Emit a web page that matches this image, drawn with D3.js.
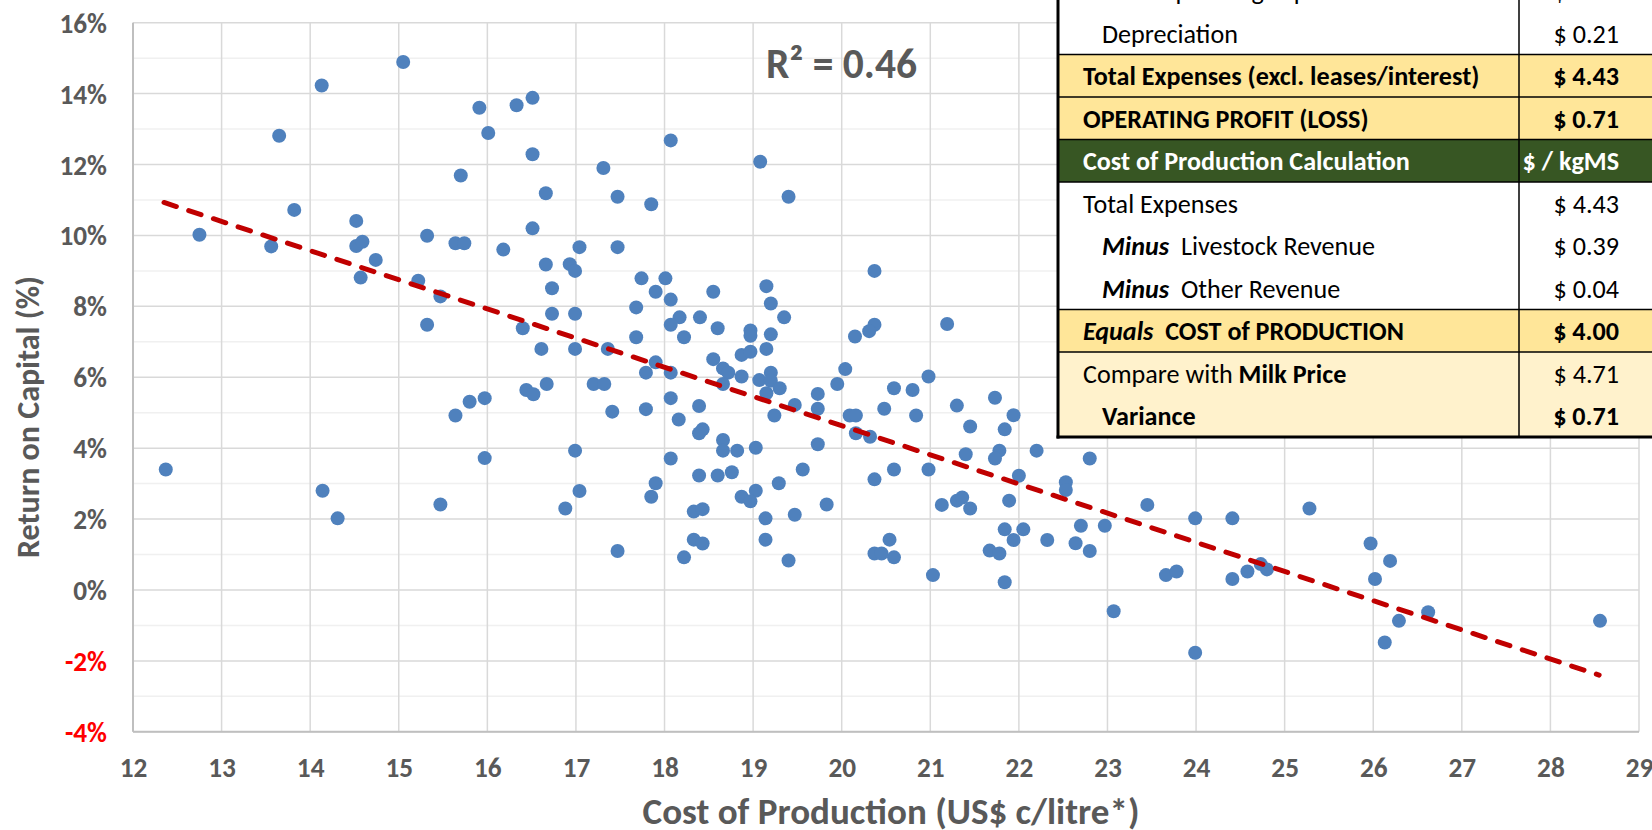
<!DOCTYPE html>
<html><head><meta charset="utf-8">
<script src="https://cdn.jsdelivr.net/npm/d3@7"></script>
<style>html,body{margin:0;padding:0;background:#fff;overflow:hidden}</style>
</head><body>
<svg id="chart" width="1652" height="830"></svg>
<script>
// ---------- DATA ----------
const cost = [
12.37,12.75,13.56,13.65,13.82,14.13,14.14,14.31,14.52,14.52,14.59,14.74,14.57,15.05,
15.91,16.33,16.51,16.01,16.51,15.70,18.07,17.31,19.08,17.47,17.85,19.40,16.66,16.51,15.32,15.64,15.74,16.18,17.04,17.47,16.66,16.93,16.99,15.22,15.47,16.73,16.73,16.99,15.32,16.40,17.74,18.01,17.90,18.07,17.68,18.55,18.17,18.07,18.40,18.60,18.22,17.68,19.15,19.20,19.35,18.97,18.97,19.20,20.37,20.37,20.31,20.15,
16.61,16.99,17.36,17.90,17.79,18.07,18.55,18.66,18.72,18.66,18.87,18.97,19.15,18.87,19.07,19.20,19.20,19.30,19.15,19.24,19.47,19.73,19.73,19.73,20.04,19.95,20.09,20.16,20.16,20.32,20.48,20.59,20.80,20.84,20.37,20.59,20.54,20.37,20.45,20.59,19.83,19.56,19.47,19.40,19.29,19.14,19.14,19.03,19.03,18.87,18.97,18.82,18.66,18.66,18.76,18.60,18.39,18.43,18.39,18.39,18.33,18.43,18.33,18.43,18.22,18.16,18.07,18.07,17.79,17.90,17.85,17.47,17.41,17.20,17.32,16.99,17.04,16.88,16.67,16.44,16.52,15.97,15.80,15.64,15.97,15.47,
21.19,20.98,21.30,21.73,21.45,21.94,21.84,21.40,21.78,21.73,22.20,22.00,22.80,22.53,22.53,20.98,21.13,21.30,21.36,21.45,21.89,21.84,22.05,21.94,21.67,21.78,21.84,21.03,22.32,22.70,22.64,22.80,22.97,23.07,23.45,23.99,24.41,23.66,23.78,24.41,24.58,24.73,24.80,23.99,25.28,
25.97,26.19,26.02,26.29,26.62,26.13,28.56
];
const roc = [
3.40,10.02,9.69,12.81,10.72,14.23,2.80,2.02,10.41,9.70,9.82,9.31,8.81,14.89,
13.60,13.67,13.88,12.89,12.29,11.69,12.68,11.90,12.08,11.09,10.88,11.09,11.19,10.20,9.99,9.78,9.78,9.60,9.67,9.67,9.18,9.19,9.00,8.72,8.28,8.51,7.79,7.79,7.48,7.38,8.79,8.79,8.41,8.19,7.97,8.41,7.69,7.48,7.69,7.38,7.13,7.13,8.57,8.08,7.69,7.32,7.17,7.21,9.00,7.48,7.30,7.15,
6.80,6.80,6.80,6.42,6.13,6.13,6.51,6.25,6.13,5.81,6.63,6.72,6.80,6.02,5.92,6.13,5.90,5.69,5.55,4.92,5.22,5.53,5.11,4.11,6.23,5.81,4.92,4.92,4.42,4.32,5.11,5.69,5.64,4.92,3.12,3.40,1.42,1.03,1.03,0.92,2.41,3.40,2.12,0.83,3.01,2.02,1.42,4.01,2.80,2.63,2.50,3.93,4.23,3.93,3.32,3.23,5.19,4.53,4.42,3.23,2.21,2.28,1.42,1.31,0.92,4.81,5.41,3.71,5.10,3.01,2.63,1.10,5.03,5.81,5.81,3.93,2.79,2.30,5.81,5.64,5.52,5.41,5.31,4.92,3.72,2.41,
7.50,6.02,5.20,5.42,4.61,4.93,4.53,3.83,3.93,3.71,3.93,3.22,3.71,3.04,2.82,3.40,2.40,2.52,2.61,2.30,2.52,1.71,1.71,1.41,1.11,1.03,0.22,0.42,1.41,1.81,1.32,1.10,1.81,-0.60,2.40,2.02,2.02,0.42,0.52,0.31,0.52,0.73,0.58,-1.77,2.30,
1.31,0.82,0.31,-0.87,-0.63,-1.48,-0.87
];
const xTicks = [12,13,14,15,16,17,18,19,20,21,22,23,24,25,26,27,28,29];
const yTicks = [-4,-2,0,2,4,6,8,10,12,14,16];
const yMinor = [-3,-1,1,3,5,7,9,11,13,15];
const trendX = [12.35, 28.55];
const trendY = [10.93, -2.40];
const rSquaredLabel = "R² = 0.46";
const xTitle = "Cost of Production (US$ c/litre*)";
const yTitle = "Return on Capital (%)";

const tableLabels = [
  [["Cash Operating Expenses","normal","normal"]],
  [["Depreciation","normal","normal"]],
  [["Total Expenses (excl. leases/interest)","bold","normal"]],
  [["OPERATING PROFIT (LOSS)","bold","normal"]],
  [["Cost of Production Calculation","bold","normal"]],
  [["Total Expenses","normal","normal"]],
  [["Minus","bold","italic"],["  Livestock Revenue","normal","normal"]],
  [["Minus","bold","italic"],["  Other Revenue","normal","normal"]],
  [["Equals","bold","italic"],["  COST of PRODUCTION","bold","normal"]],
  [["Compare with ","normal","normal"],["Milk Price","bold","normal"]],
  [["Variance","bold","normal"]]
];
const tableValues = ["$ 4.22","$ 0.21","$ 4.43","$ 0.71","$ / kgMS","$ 4.43","$ 0.39","$ 0.04","$ 4.00","$ 4.71","$ 0.71"];
const tableValueBold = [false,false,true,true,true,false,false,false,true,false,true];

// ---------- LAYOUT / STYLE ----------
const W = 1652, H = 830;
const plot = {left:133, right:1639, top:22.7, bottom:731.8};
const FONT = "Carlito, Calibri, Lato, sans-serif";
const GRAY = "#595959";
const svg = d3.select("#chart");
svg.append("rect").attr("width",W).attr("height",H).attr("fill","#fff");

const x = d3.scaleLinear().domain([12,29]).range([plot.left, plot.right]);
const y = d3.scaleLinear().domain([-4,16]).range([plot.bottom, plot.top]);

function fitFont(sel, target){
  const w = sel.node().getComputedTextLength();
  const fs = parseFloat(sel.attr("font-size"));
  const nf = fs*target/w;
  sel.attr("font-size", nf);
  return nf;
}

// gridlines
const grid = svg.append("g");
grid.selectAll(".ymin").data(yMinor).join("line")
  .attr("x1",plot.left).attr("x2",plot.right)
  .attr("y1",d=>y(d)).attr("y2",d=>y(d))
  .attr("stroke","#F0F0F0").attr("stroke-width",1.5);
grid.selectAll(".ymaj").data(yTicks).join("line")
  .attr("x1",plot.left).attr("x2",plot.right)
  .attr("y1",d=>y(d)).attr("y2",d=>y(d))
  .attr("stroke","#D9D9D9").attr("stroke-width",1.5);
grid.selectAll(".xg").data(xTicks).join("line")
  .attr("x1",d=>x(d)).attr("x2",d=>x(d))
  .attr("y1",plot.top).attr("y2",plot.bottom)
  .attr("stroke","#D9D9D9").attr("stroke-width",1.5);
// axis lines
svg.append("line").attr("x1",plot.left).attr("x2",plot.left).attr("y1",plot.top).attr("y2",plot.bottom)
  .attr("stroke","#BFBFBF").attr("stroke-width",2);
svg.append("line").attr("x1",plot.left).attr("x2",plot.right).attr("y1",plot.bottom).attr("y2",plot.bottom)
  .attr("stroke","#BFBFBF").attr("stroke-width",2);

// probe tick font size
const probe = svg.append("text").attr("font-family",FONT).attr("font-weight","bold").attr("font-size",24).text("16%");
const tickFS = fitFont(probe, 47.5);
probe.remove();

// y axis
const yAxis = svg.append("g").attr("transform",`translate(${plot.left},0)`)
  .call(d3.axisLeft(y).tickValues(yTicks).tickFormat(d=>d+"%").tickSize(0).tickPadding(26));
yAxis.select(".domain").remove();
yAxis.selectAll("text").attr("font-family",FONT).attr("font-weight","bold").attr("font-size",tickFS)
  .attr("fill",d=>d<0?"#FF0000":GRAY).attr("dy","0.35em");

// x axis
const xAxis = svg.append("g").attr("transform",`translate(0,${plot.bottom})`)
  .call(d3.axisBottom(x).tickValues(xTicks).tickFormat(d=>d).tickSize(0));
xAxis.select(".domain").remove();
xAxis.selectAll("text").attr("font-family",FONT).attr("font-weight","bold").attr("font-size",tickFS)
  .attr("fill",GRAY).attr("y",767-plot.bottom).attr("dy","0.35em");

// points
svg.append("g").selectAll("circle").data(cost.map((c,i)=>[c,roc[i]])).join("circle")
  .attr("cx",d=>x(d[0])).attr("cy",d=>y(d[1])).attr("r",7).attr("fill","#4F81BD");

// trendline
svg.append("path").datum(trendX.map((t,i)=>[t,trendY[i]]))
  .attr("d",d3.line().x(d=>x(d[0])).y(d=>y(d[1])))
  .attr("fill","none").attr("stroke","#C00000").attr("stroke-width",5)
  .attr("stroke-dasharray","13,13").attr("stroke-linecap","round");

// R squared
const r2 = svg.append("text").attr("x",766).attr("y",78).attr("font-family",FONT).attr("font-weight","bold")
  .attr("font-size",38).attr("fill",GRAY).text(rSquaredLabel);
fitFont(r2,151);

// titles
const xt = svg.append("text").attr("x",891).attr("y",811).attr("dy","0.35em").attr("text-anchor","middle")
  .attr("font-family",FONT).attr("font-weight","bold").attr("font-size",28).attr("fill",GRAY).text(xTitle);
fitFont(xt,497);
const yt = svg.append("text").attr("transform","translate(28,417) rotate(-90)").attr("dy","0.35em").attr("text-anchor","middle")
  .attr("font-family",FONT).attr("font-weight","bold").attr("font-size",29).attr("fill",GRAY).text(yTitle);
fitFont(yt,282);

// ---------- TABLE ----------
const tbl = svg.append("g");
const tLeft = 1058, tDiv = 1519, tRight = 1700, rowH = 42.5, tBottom = 437;
const rowTop = i => tBottom - (tableLabels.length - i)*rowH;
const rowFill = ["#FFFFFF","#FFFFFF","#FFE699","#FFE699","#375623","#FFFFFF","#FFFFFF","#FFFFFF","#FFE699","#FFF2CC","#FFF2CC"];
const indent = [1102,1102,1083,1083,1083,1083,1102,1102,1083,1083,1102];
const lineAbove = [false,false,true,true,true,true,false,false,true,true,false];

tbl.selectAll("rect.row").data(tableLabels).join("rect")
  .attr("x",tLeft).attr("width",tRight-tLeft)
  .attr("y",(d,i)=>rowTop(i)).attr("height",rowH+0.5)
  .attr("fill",(d,i)=>rowFill[i]);
tableLabels.forEach((r,i)=>{ if(lineAbove[i]) tbl.append("line").attr("x1",tLeft).attr("x2",tRight)
  .attr("y1",rowTop(i)).attr("y2",rowTop(i)).attr("stroke","#000").attr("stroke-width",1.5); });
tbl.append("line").attr("x1",tDiv).attr("x2",tDiv).attr("y1",0).attr("y2",tBottom).attr("stroke","#000").attr("stroke-width",1.5);

// table font size
const tp = svg.append("text").attr("font-family",FONT).attr("font-size",24).text("Depreciation");
const tFS = fitFont(tp,136);
tp.remove();

tableLabels.forEach((parts,i)=>{
  const t = tbl.append("text").attr("x",indent[i]).attr("y",rowTop(i)+rowH/2).attr("dy","0.36em")
    .attr("font-family",FONT).attr("font-size",tFS).attr("fill",i===4?"#fff":"#000")
    .attr("xml:space","preserve").style("white-space","pre");
  parts.forEach(p=>t.append("tspan").attr("font-weight",p[1]).attr("font-style",p[2]).text(p[0]));
  tbl.append("text").attr("x",1619).attr("y",rowTop(i)+rowH/2).attr("dy","0.36em").attr("text-anchor","end")
    .attr("font-family",FONT).attr("font-size",tFS).attr("font-weight",tableValueBold[i]?"bold":"normal")
    .attr("fill",i===4?"#fff":"#000").text(tableValues[i]);
});
// outer thick borders
tbl.append("line").attr("x1",tLeft).attr("x2",tLeft).attr("y1",0).attr("y2",tBottom+1.5).attr("stroke","#000").attr("stroke-width",3);
tbl.append("line").attr("x1",tLeft-1.5).attr("x2",tRight).attr("y1",tBottom).attr("y2",tBottom).attr("stroke","#000").attr("stroke-width",3);
</script>
</body></html>
